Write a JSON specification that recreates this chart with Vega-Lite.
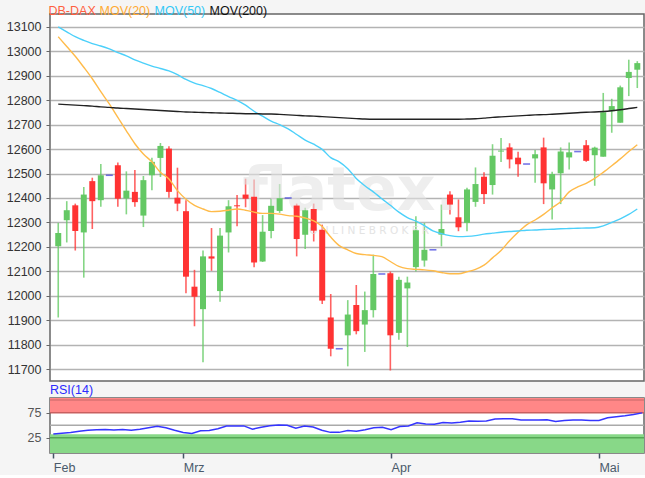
{
  "$schema": "https://vega.github.io/schema/vega-lite/v6.json",
  "background": "#f5f5f5",
  "padding": {"left": 5, "top": 5, "right": 0, "bottom": 0},
  "spacing": 0,
  "datasets": {
    "dax": [
      {"i": 0, "o": 12202, "h": 12298, "l": 11911, "c": 12257, "ma20": 13060, "ma50": 13100, "ma200": 12784, "rsi": 32.7},
      {"i": 1, "o": 12309, "h": 12387, "l": 12218, "c": 12350, "ma20": 13020, "ma50": 13080, "ma200": 12782, "rsi": 34},
      {"i": 2, "o": 12370, "h": 12377, "l": 12185, "c": 12265, "ma20": 12980, "ma50": 13060, "ma200": 12780, "rsi": 35.5},
      {"i": 3, "o": 12259, "h": 12445, "l": 12074, "c": 12414, "ma20": 12935, "ma50": 13045, "ma200": 12778, "rsi": 38},
      {"i": 4, "o": 12469, "h": 12483, "l": 12273, "c": 12387, "ma20": 12888, "ma50": 13032, "ma200": 12776, "rsi": 40},
      {"i": 5, "o": 12391, "h": 12539, "l": 12364, "c": 12493, "ma20": 12835, "ma50": 13022, "ma200": 12773, "rsi": 41},
      {"i": 6, "o": 12493, "h": 12493, "l": 12493, "c": 12493, "ma20": 12785, "ma50": 13010, "ma200": 12771, "rsi": 41.5},
      {"i": 7, "o": 12534, "h": 12545, "l": 12364, "c": 12397, "ma20": 12730, "ma50": 12995, "ma200": 12768, "rsi": 40.5},
      {"i": 8, "o": 12398, "h": 12509, "l": 12333, "c": 12430, "ma20": 12675, "ma50": 12982, "ma200": 12766, "rsi": 41.5},
      {"i": 9, "o": 12425, "h": 12515, "l": 12364, "c": 12383, "ma20": 12622, "ma50": 12965, "ma200": 12764, "rsi": 40},
      {"i": 10, "o": 12328, "h": 12490, "l": 12281, "c": 12473, "ma20": 12580, "ma50": 12952, "ma200": 12762, "rsi": 42},
      {"i": 11, "o": 12493, "h": 12565, "l": 12432, "c": 12548, "ma20": 12548, "ma50": 12940, "ma200": 12760, "rsi": 45},
      {"i": 12, "o": 12564, "h": 12625, "l": 12486, "c": 12613, "ma20": 12505, "ma50": 12930, "ma200": 12758, "rsi": 48},
      {"i": 13, "o": 12602, "h": 12612, "l": 12401, "c": 12425, "ma20": 12478, "ma50": 12920, "ma200": 12756, "rsi": 45},
      {"i": 14, "o": 12401, "h": 12524, "l": 12346, "c": 12377, "ma20": 12430, "ma50": 12905, "ma200": 12754, "rsi": 40},
      {"i": 15, "o": 12346, "h": 12391, "l": 12010, "c": 12078, "ma20": 12395, "ma50": 12885, "ma200": 12752, "rsi": 35.5},
      {"i": 16, "o": 12037, "h": 12106, "l": 11875, "c": 11996, "ma20": 12370, "ma50": 12870, "ma200": 12751, "rsi": 33.5},
      {"i": 17, "o": 11945, "h": 12185, "l": 11728, "c": 12161, "ma20": 12355, "ma50": 12860, "ma200": 12750, "rsi": 39},
      {"i": 18, "o": 12161, "h": 12277, "l": 12102, "c": 12152, "ma20": 12344, "ma50": 12848, "ma200": 12749, "rsi": 39.5},
      {"i": 19, "o": 12019, "h": 12277, "l": 11975, "c": 12246, "ma20": 12346, "ma50": 12832, "ma200": 12748, "rsi": 43},
      {"i": 20, "o": 12259, "h": 12391, "l": 12177, "c": 12366, "ma20": 12350, "ma50": 12815, "ma200": 12747, "rsi": 48.5},
      {"i": 21, "o": 12370, "h": 12412, "l": 12284, "c": 12366, "ma20": 12355, "ma50": 12800, "ma200": 12746, "rsi": 48.7},
      {"i": 22, "o": 12414, "h": 12479, "l": 12362, "c": 12397, "ma20": 12350, "ma50": 12780, "ma200": 12745, "rsi": 48.7},
      {"i": 23, "o": 12405, "h": 12476, "l": 12117, "c": 12136, "ma20": 12342, "ma50": 12755, "ma200": 12745, "rsi": 42.3},
      {"i": 24, "o": 12140, "h": 12330, "l": 12138, "c": 12262, "ma20": 12337, "ma50": 12735, "ma200": 12744, "rsi": 46},
      {"i": 25, "o": 12265, "h": 12396, "l": 12235, "c": 12368, "ma20": 12337, "ma50": 12715, "ma200": 12744, "rsi": 49},
      {"i": 26, "o": 12347, "h": 12457, "l": 12339, "c": 12399, "ma20": 12334, "ma50": 12700, "ma200": 12742, "rsi": 50.5},
      {"i": 27, "o": 12400, "h": 12400, "l": 12400, "c": 12400, "ma20": 12328, "ma50": 12683, "ma200": 12740, "rsi": 50},
      {"i": 28, "o": 12369, "h": 12377, "l": 12161, "c": 12232, "ma20": 12325, "ma50": 12660, "ma200": 12738, "rsi": 44.2},
      {"i": 29, "o": 12250, "h": 12360, "l": 12191, "c": 12350, "ma20": 12318, "ma50": 12637, "ma200": 12736, "rsi": 48.7},
      {"i": 30, "o": 12355, "h": 12377, "l": 12222, "c": 12266, "ma20": 12306, "ma50": 12620, "ma200": 12735, "rsi": 46.5},
      {"i": 31, "o": 12270, "h": 12291, "l": 11966, "c": 11980, "ma20": 12283, "ma50": 12599, "ma200": 12733, "rsi": 40},
      {"i": 32, "o": 11911, "h": 12007, "l": 11752, "c": 11783, "ma20": 12240, "ma50": 12565, "ma200": 12731, "rsi": 35.9},
      {"i": 33, "o": 11783, "h": 11783, "l": 11783, "c": 11783, "ma20": 12205, "ma50": 12548, "ma200": 12729, "rsi": 35.9},
      {"i": 34, "o": 11838, "h": 11982, "l": 11711, "c": 11923, "ma20": 12188, "ma50": 12520, "ma200": 12727, "rsi": 39.5},
      {"i": 35, "o": 11962, "h": 12044, "l": 11842, "c": 11855, "ma20": 12173, "ma50": 12480, "ma200": 12725, "rsi": 38},
      {"i": 36, "o": 11882, "h": 12017, "l": 11770, "c": 11941, "ma20": 12168, "ma50": 12450, "ma200": 12723, "rsi": 41},
      {"i": 37, "o": 11941, "h": 12168, "l": 11911, "c": 12089, "ma20": 12165, "ma50": 12425, "ma200": 12722, "rsi": 45},
      {"i": 38, "o": 12089, "h": 12089, "l": 12089, "c": 12089, "ma20": 12160, "ma50": 12397, "ma200": 12722, "rsi": 46},
      {"i": 39, "o": 12092, "h": 12099, "l": 11694, "c": 11838, "ma20": 12140, "ma50": 12370, "ma200": 12722, "rsi": 41},
      {"i": 40, "o": 11848, "h": 12078, "l": 11820, "c": 12065, "ma20": 12120, "ma50": 12342, "ma200": 12722, "rsi": 47.5},
      {"i": 41, "o": 12030, "h": 12078, "l": 11790, "c": 12054, "ma20": 12111, "ma50": 12320, "ma200": 12722, "rsi": 48.7},
      {"i": 42, "o": 12117, "h": 12325, "l": 12099, "c": 12268, "ma20": 12108, "ma50": 12305, "ma200": 12722, "rsi": 55},
      {"i": 43, "o": 12144, "h": 12298, "l": 12119, "c": 12188, "ma20": 12106, "ma50": 12287, "ma200": 12722, "rsi": 52.6},
      {"i": 44, "o": 12188, "h": 12188, "l": 12188, "c": 12188, "ma20": 12102, "ma50": 12265, "ma200": 12722, "rsi": 52},
      {"i": 45, "o": 12250, "h": 12373, "l": 12202, "c": 12273, "ma20": 12095, "ma50": 12254, "ma200": 12722, "rsi": 55.5},
      {"i": 46, "o": 12414, "h": 12428, "l": 12332, "c": 12373, "ma20": 12090, "ma50": 12246, "ma200": 12722, "rsi": 54.5},
      {"i": 47, "o": 12321, "h": 12394, "l": 12264, "c": 12280, "ma20": 12090, "ma50": 12242, "ma200": 12722, "rsi": 56},
      {"i": 48, "o": 12298, "h": 12442, "l": 12264, "c": 12435, "ma20": 12098, "ma50": 12243, "ma200": 12723, "rsi": 58.5},
      {"i": 49, "o": 12384, "h": 12525, "l": 12364, "c": 12457, "ma20": 12108, "ma50": 12246, "ma200": 12724, "rsi": 58},
      {"i": 50, "o": 12487, "h": 12505, "l": 12375, "c": 12416, "ma20": 12125, "ma50": 12252, "ma200": 12727, "rsi": 58.5},
      {"i": 51, "o": 12453, "h": 12620, "l": 12414, "c": 12573, "ma20": 12155, "ma50": 12256, "ma200": 12730, "rsi": 62.5},
      {"i": 52, "o": 12590, "h": 12646, "l": 12547, "c": 12594, "ma20": 12185, "ma50": 12260, "ma200": 12732, "rsi": 62.8},
      {"i": 53, "o": 12607, "h": 12624, "l": 12521, "c": 12558, "ma20": 12225, "ma50": 12263, "ma200": 12734, "rsi": 62.8},
      {"i": 54, "o": 12565, "h": 12589, "l": 12487, "c": 12538, "ma20": 12260, "ma50": 12265, "ma200": 12736, "rsi": 60.3},
      {"i": 55, "o": 12539, "h": 12539, "l": 12539, "c": 12539, "ma20": 12290, "ma50": 12268, "ma200": 12738, "rsi": 60.3},
      {"i": 56, "o": 12562, "h": 12596, "l": 12462, "c": 12579, "ma20": 12310, "ma50": 12269, "ma200": 12740, "rsi": 60.3},
      {"i": 57, "o": 12607, "h": 12647, "l": 12375, "c": 12460, "ma20": 12333, "ma50": 12271, "ma200": 12741, "rsi": 61},
      {"i": 58, "o": 12435, "h": 12507, "l": 12312, "c": 12498, "ma20": 12360, "ma50": 12272, "ma200": 12743, "rsi": 57.5},
      {"i": 59, "o": 12501, "h": 12607, "l": 12375, "c": 12590, "ma20": 12385, "ma50": 12274, "ma200": 12745, "rsi": 59.5},
      {"i": 60, "o": 12566, "h": 12627, "l": 12517, "c": 12587, "ma20": 12425, "ma50": 12275, "ma200": 12747, "rsi": 60.3},
      {"i": 61, "o": 12590, "h": 12590, "l": 12590, "c": 12590, "ma20": 12445, "ma50": 12276, "ma200": 12749, "rsi": 60.3},
      {"i": 62, "o": 12616, "h": 12637, "l": 12548, "c": 12552, "ma20": 12460, "ma50": 12277, "ma200": 12751, "rsi": 59.5},
      {"i": 63, "o": 12575, "h": 12610, "l": 12450, "c": 12606, "ma20": 12480, "ma50": 12278, "ma200": 12752, "rsi": 59.5},
      {"i": 64, "o": 12569, "h": 12830, "l": 12569, "c": 12751, "ma20": 12505, "ma50": 12286, "ma200": 12754, "rsi": 65},
      {"i": 65, "o": 12755, "h": 12806, "l": 12667, "c": 12776, "ma20": 12532, "ma50": 12300, "ma200": 12757, "rsi": 67},
      {"i": 66, "o": 12708, "h": 12860, "l": 12708, "c": 12853, "ma20": 12560, "ma50": 12315, "ma200": 12761, "rsi": 69},
      {"i": 67, "o": 12891, "h": 12966, "l": 12817, "c": 12916, "ma20": 12590, "ma50": 12333, "ma200": 12766, "rsi": 71.5},
      {"i": 68, "o": 12925, "h": 12960, "l": 12850, "c": 12952, "ma20": 12618, "ma50": 12355, "ma200": 12771, "rsi": 74.5}
    ]
  },
  "data": {"name": "dax"},
  "config": {
    "font": "Liberation Sans",
    "view": {"stroke": "#666666", "strokeWidth": 1.5, "fill": "#ffffff"},
    "axis": {"labelFont": "Liberation Sans", "labelFontSize": 12.5, "domain": false, "title": null, "labelOverlap": false},
    "axisY": {"labelOverlap": false},
    "legend": {
      "orient": "top",
      "direction": "horizontal",
      "title": null,
      "symbolType": "circle",
      "symbolSize": 0,
      "symbolStrokeWidth": 0,
      "symbolOpacity": 0,
      "labelOffset": -14,
      "columnPadding": 3,
      "padding": 0,
      "offset": -5,
      "labelFont": "Liberation Sans",
      "labelFontSize": 12.5
    }
  },
  "vconcat": [
    {
      "width": 594,
      "height": 367,
      "layer": [
        {
          "mark": {"type": "rule", "strokeWidth": 1.6, "opacity": 0.8},
          "encoding": {
            "x": {"field": "i", "type": "quantitative", "scale": {"domain": [-0.38, 68.2], "nice": false, "zero": false}, "axis": null},
            "y": {"field": "l", "type": "quantitative", "scale": {"domain": [11651, 13153], "nice": false, "zero": false},
              "axis": {"values": [11700, 11800, 11900, 12000, 12100, 12200, 12300, 12400, 12500, 12600, 12700, 12800, 12900, 13000, 13100],
                "tickCount": 16, "format": "d", "labelOverlap": false, "labelSeparation": 0, "grid": true, "gridColor": "#b3b3b3", "gridWidth": 1.5,
                "tickSize": 4, "tickColor": "#666666", "labelPadding": 5, "labelColor": "#333333", "minExtent": 44, "maxExtent": 44}},
            "y2": {"field": "h"},
            "color": {"condition": {"test": "datum.c < datum.o", "value": "#ff3b3b"}, "value": "#66cc66"}
          }
        },
        {
          "data": {"values": [{"wm": "flatex."}]},
          "mark": {"type": "text", "font": "DejaVu Sans", "fontWeight": "bold", "fontSize": 60, "color": "#e3e3e3", "opacity": 0.6, "align": "center", "baseline": "alphabetic"},
          "encoding": {
            "text": {"field": "wm"},
            "x": {"datum": 34.3, "type": "quantitative"},
            "y": {"datum": 12350, "type": "quantitative"}
          }
        },
        {
          "data": {"values": [{"wm": "O N L I N E   B R O K E R"}]},
          "mark": {"type": "text", "font": "DejaVu Sans", "fontSize": 10.5, "color": "#dddddd", "opacity": 0.8, "align": "center", "baseline": "middle"},
          "encoding": {
            "text": {"field": "wm"},
            "x": {"datum": 36.5, "type": "quantitative"},
            "y": {"datum": 12266, "type": "quantitative"}
          }
        },
        {
          "transform": [{"filter": "datum.o != datum.c"}],
          "mark": {"type": "bar", "size": 6},
          "encoding": {
            "x": {"field": "i", "type": "quantitative"},
            "y": {"field": "o", "type": "quantitative"},
            "y2": {"field": "c"},
            "color": {"condition": {"test": "datum.c < datum.o", "value": "#ff3333"}, "value": "#64c864"}
          }
        },
        {
          "transform": [{"filter": "datum.o == datum.c"}],
          "mark": {"type": "tick", "orient": "horizontal", "size": 7, "thickness": 1.6, "color": "#3b3bdd"},
          "encoding": {
            "x": {"field": "i", "type": "quantitative"},
            "y": {"field": "c", "type": "quantitative"}
          }
        },
        {
          "transform": [{"fold": ["ma20", "ma50", "ma200"], "as": ["series", "val"]}],
          "mark": {"type": "line", "strokeWidth": 1.4, "interpolate": "monotone"},
          "encoding": {
            "x": {"field": "i", "type": "quantitative"},
            "y": {"field": "val", "type": "quantitative"},
            "color": {
              "field": "series", "type": "nominal",
              "scale": {"domain": ["DB-DAX", "ma20", "ma50", "ma200"], "range": ["#ff6040", "#ffbb4a", "#4cd0fa", "#222222"]},
              "legend": {
                "symbolType": "circle",
                "symbolSize": 0,
                "symbolStrokeWidth": 0,
                "labelOffset": -14,
                "columnPadding": 3,
                "labelExpr": "datum.value == 'ma20' ? 'MOV(20)' : datum.value == 'ma50' ? 'MOV(50)' : datum.value == 'ma200' ? 'MOV(200)' : datum.value",
                "encode": {
                  "symbols": {"update": {"size": {"value": 0}, "strokeWidth": {"value": 0}}},
                  "labels": {"update": {"fill": {"signal": "datum.value == 'DB-DAX' ? '#ff5f3f' : datum.value == 'ma20' ? '#ffaa33' : datum.value == 'ma50' ? '#33c8f5' : '#111111'"}}}
                }
              }
            }
          }
        }
      ]
    },
    {
      "width": 594,
      "height": 55,
      "title": {"text": "RSI(14)", "anchor": "start", "frame": "group", "color": "#2b2bff", "fontSize": 12.5, "fontWeight": "normal", "font": "Liberation Sans", "offset": 2},
      "layer": [
        {
          "data": {"values": [{}]},
          "mark": {"type": "rect", "color": "#ff8787"},
          "encoding": {
            "y": {"datum": 75, "type": "quantitative", "scale": {"domain": [-5, 104], "nice": false, "zero": false},
              "axis": {"values": [25, 75], "grid": false, "tickSize": 4, "tickColor": "#666666", "labelPadding": 5, "labelColor": "#555555", "minExtent": 44, "maxExtent": 44}},
            "y2": {"datum": 104}
          }
        },
        {
          "data": {"values": [{}]},
          "mark": {"type": "rect", "color": "#88d888"},
          "encoding": {
            "y": {"datum": -5, "type": "quantitative"},
            "y2": {"datum": 32}
          }
        },
        {
          "data": {"values": [{}]},
          "mark": {"type": "rule", "color": "#c86060", "strokeWidth": 1.5},
          "encoding": {"y": {"datum": 75, "type": "quantitative"}}
        },
        {
          "data": {"values": [{}]},
          "mark": {"type": "rule", "color": "#d87272", "strokeWidth": 1.5},
          "encoding": {"y": {"datum": 100, "type": "quantitative"}}
        },
        {
          "data": {"values": [{}]},
          "mark": {"type": "rule", "color": "#55a855", "strokeWidth": 1.5},
          "encoding": {"y": {"datum": 25, "type": "quantitative"}}
        },
        {
          "data": {"values": [{}]},
          "mark": {"type": "rule", "color": "#aaaaaa", "strokeWidth": 1.5},
          "encoding": {"y": {"datum": 50, "type": "quantitative"}}
        },
        {
          "mark": {"type": "line", "color": "#3535ff", "strokeWidth": 1.5},
          "encoding": {
            "x": {"field": "i", "type": "quantitative", "scale": {"domain": [-0.38, 68.2], "nice": false, "zero": false},
              "axis": {"values": [0, 15, 39, 63], "labelExpr": "datum.value == 0 ? 'Feb' : datum.value == 15 ? 'Mrz' : datum.value == 39 ? 'Apr' : 'Mai'",
                "labelAlign": "left", "tickSize": 5, "tickColor": "#445566", "tickWidth": 1.5, "labelColor": "#4a5a6b", "labelPadding": 3, "grid": false}},
            "y": {"field": "rsi", "type": "quantitative"}
          }
        }
      ]
    }
  ]
}
